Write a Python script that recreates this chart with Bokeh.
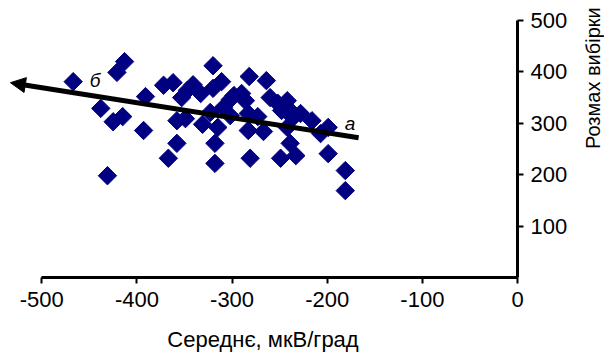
from bokeh.plotting import figure
from bokeh.models import ColumnDataSource, Arrow, NormalHead, Label, FixedTicker
from bokeh.embed import file_html
from bokeh.resources import INLINE
from math import pi

# scatter data: mean (uV/deg) vs sample range
mean_x = [-467, -421, -413, -438, -425, -415, -393, -391, -431,
          -372, -362, -353, -358, -358, -367, -347, -341, -333, -349, -331,
          -320, -320, -311, -323, -315, -318, -318, -309, -302, -298,
          -290, -286, -302, -282, -283, -283, -281, -273, -267, -264,
          -260, -252, -248, -249, -242, -239, -242, -239, -233, -236,
          -228, -216, -207, -199, -199, -181, -181]
range_y = [381, 399, 420, 329, 303, 313, 286, 352, 198,
           374, 379, 350, 305, 261, 232, 364, 375, 358, 309, 298,
           412, 368, 381, 321, 292, 261, 222, 331, 346, 354,
           358, 344, 315, 391, 319, 286, 232, 313, 284, 383,
           350, 339, 325, 232, 344, 325, 292, 261, 237, 311,
           319, 305, 280, 292, 241, 208, 169]

# trend arrow (from "а" end to "б" end)
trend_x = [-167, -533]
trend_y = [272, 379]

# annotations
label_text = ["б", "а"]
label_x = [-444, -176]
label_y = [383, 300]

x_ticks = [-500, -400, -300, -200, -100, 0]
y_ticks = [100, 200, 300, 400, 500]

x_title = "Середнє, мкВ/град"
y_title = "Розмах вибірки"

FONT = "Liberation Sans"

p = figure(frame_width=509, frame_height=257,
           x_range=(-535, 0), y_range=(0, 500),
           y_axis_location="right",
           output_backend="svg", toolbar_location=None,
           min_border_left=8, min_border_top=20,
           min_border_right=60, min_border_bottom=60)
p.outline_line_color = None
p.xgrid.visible = False
p.ygrid.visible = False
p.background_fill_color = "white"

src = ColumnDataSource(dict(x=mean_x, y=range_y))
p.scatter("x", "y", source=src, marker="square", angle=pi / 4, size=13,
          fill_color="#000080", line_color="#000080")

arrow = Arrow(end=NormalHead(size=15, fill_color="black", line_color="black"),
              x_start=trend_x[0], y_start=trend_y[0],
              x_end=trend_x[1], y_end=trend_y[1],
              line_width=5, line_color="black")
p.add_layout(arrow)

for t, lx, ly in zip(label_text, label_x, label_y):
    p.add_layout(Label(x=lx, y=ly, text=t, text_font=FONT, text_font_size="19px",
                       text_font_style="italic", text_align="center",
                       text_baseline="middle", text_color="black"))

# x axis
xa = p.xaxis[0]
xa.ticker = FixedTicker(ticks=x_ticks)
xa.major_label_overrides = {t: str(t) for t in x_ticks}
xa.bounds = (-500, 0)
xa.axis_line_width = 3
xa.major_tick_line_width = 2
xa.major_tick_out = 6
xa.major_tick_in = 0
xa.minor_tick_line_color = None
xa.major_label_text_font = FONT
xa.major_label_text_font_size = "22px"
xa.major_label_text_color = "black"
xa.major_label_standoff = 8
xa.axis_label = x_title
xa.axis_label_text_font = FONT
xa.axis_label_text_font_size = "22px"
xa.axis_label_text_font_style = "normal"
xa.axis_label_text_color = "black"
xa.axis_label_standoff = 17

# y axis (right)
ya = p.yaxis[0]
ya.ticker = FixedTicker(ticks=y_ticks)
ya.bounds = (0, 500)
ya.axis_line_width = 3
ya.major_tick_line_width = 2
ya.major_tick_out = 6
ya.major_tick_in = 0
ya.minor_tick_line_color = None
ya.major_label_text_font = FONT
ya.major_label_text_font_size = "22px"
ya.major_label_text_color = "black"
ya.major_label_standoff = 7

# title reads bottom-to-top
ya.axis_label_orientation = pi / 2
ya.axis_label = y_title
ya.axis_label_text_font = FONT
ya.axis_label_text_font_size = "20px"
ya.axis_label_text_font_style = "normal"
ya.axis_label_text_color = "black"
ya.axis_label_standoff = 23

open("out.html", "w").write(file_html(p, INLINE))
